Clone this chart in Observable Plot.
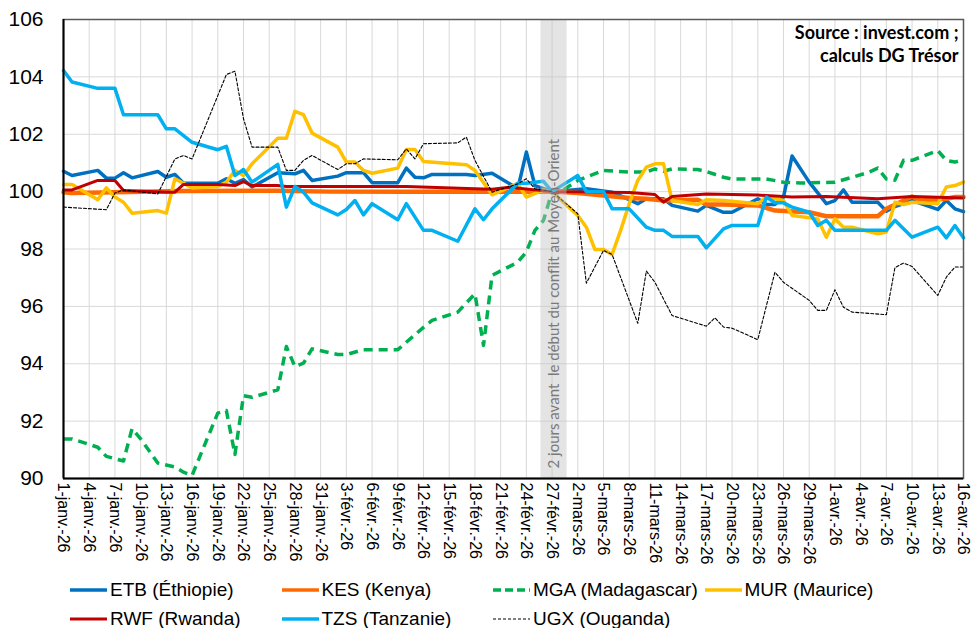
<!DOCTYPE html>
<html><head><meta charset="utf-8">
<script src="https://cdn.jsdelivr.net/npm/d3@7"></script>
<script src="https://cdn.jsdelivr.net/npm/@observablehq/plot@0.6"></script>
<style>
body{margin:0;background:#fff;font-family:"Liberation Sans",Arial,sans-serif;}
#chart{width:971px;height:628px;position:relative;overflow:hidden;background:#fff}
.legend{position:absolute;left:70px;top:575px;display:grid;grid-template-columns:repeat(4,211.5px);grid-auto-rows:29px;font-size:19px;color:#000}
.item{display:flex;align-items:center;white-space:nowrap}
.item svg{margin-right:3px;flex:none}
</style></head><body><div id="chart"></div>
<script>
// Day offsets from 1 Jan 2026, index values (27-févr.-26 = 100)
const ETB = [[0,100.71],[1,100.56],[4,100.74],[5,100.47],[6,100.47],[7,100.66],[8,100.48],[11,100.70],[12,100.50],[13,100.60],[14,100.29],[18,100.29],[19,100.45],[20,100.29],[21,100.42],[22,100.16],[25,100.66],[26,100.64],[27,100.62],[28,100.74],[29,100.39],[32,100.54],[33,100.66],[35,100.66],[36,100.31],[39,100.31],[40,100.82],[41,100.50],[42,100.48],[43,100.60],[47,100.60],[48,100.56],[50,100.64],[53,100.10],[54,101.38],[55,100.21],[57,100],[61,100.10],[64,99.98],[66,99.72],[67,99.58],[68,99.75],[70,99.75],[71,99.52],[74,99.32],[75,99.52],[77,99.28],[78,99.28],[81,99.75],[82,99.55],[83,99.55],[84,99.81],[85,101.24],[87,100.33],[89,99.58],[90,99.69],[91,100.06],[92,99.63],[95,99.63],[96,99.32],[97,99.48],[99,99.69],[102,99.38],[103,99.69],[104,99.40],[105,99.30]];
const KES = [[0,99.98],[1,99.95],[14,100.02],[25,100.03],[31,100.0],[40,100.0],[50,100.0],[57,100],[60,99.95],[66,99.78],[68,99.75],[70,99.69],[74,99.72],[75,99.55],[77,99.55],[81,99.52],[83,99.34],[87,99.28],[89,99.14],[95,99.14],[96,99.40],[99,99.83],[100,99.69],[103,99.75],[104,99.81],[105,99.81]];
const MGA = [[0,91.38],[1,91.38],[4,91.09],[5,90.77],[7,90.61],[8,91.74],[9,91.38],[11,90.54],[13,90.40],[14,90.22],[15,90.11],[18,92.28],[19,92.37],[20,90.84],[21,92.89],[22,92.83],[25,93.09],[26,94.60],[27,93.90],[28,94.02],[29,94.52],[32,94.32],[33,94.32],[35,94.49],[39,94.49],[42,95.27],[43,95.51],[46,95.80],[48,96.44],[49,94.64],[50,97.08],[53,97.54],[54,97.90],[55,98.65],[56,99.0],[57,100],[58,100.0],[60,100.39],[63,100.74],[66,100.68],[68,100.68],[69,100.79],[70,100.71],[71,100.79],[74,100.77],[75,100.70],[77,100.50],[78,100.44],[82,100.44],[84,100.33],[86,100.30],[90,100.33],[92,100.50],[94,100.68],[95,100.82],[96,100.44],[97,100.40],[98,101.09],[99,101.09],[102,101.43],[103,101.09],[104,101.03],[105,101.11]];
const MUR = [[0,100.25],[1,100.25],[4,99.72],[5,100.13],[6,99.81],[7,99.63],[8,99.25],[11,99.34],[12,99.25],[13,100.45],[15,100.13],[18,100.18],[19,100.33],[20,100.74],[21,100.56],[22,100.97],[25,101.86],[26,101.86],[27,102.80],[28,102.68],[29,102.04],[32,101.55],[33,101.03],[34,101.03],[35,100.74],[36,100.64],[39,100.82],[40,101.47],[41,101.47],[42,101.05],[47,100.94],[48,100.74],[50,99.89],[53,100.29],[54,99.81],[56,100.06],[57,100],[60,99.17],[61,98.76],[62,97.98],[63,97.98],[64,97.81],[65,98.65],[66,99.58],[67,100.39],[68,100.85],[69,100.97],[70,100.97],[71,99.69],[74,99.55],[75,99.72],[77,99.69],[81,99.58],[82,99.81],[84,99.69],[85,99.17],[88,99.05],[89,98.41],[90,99.05],[91,98.76],[92,98.76],[95,98.53],[96,98.59],[97,99.63],[98,99.55],[99,99.63],[102,99.58],[103,100.16],[104,100.21],[105,100.33]];
const RWF = [[0,100.06],[1,100.06],[4,100.39],[6,100.39],[7,100.04],[12,99.98],[13,99.98],[14,100.25],[18,100.25],[20,100.21],[21,100.35],[22,100.21],[25,100.21],[26,100.18],[31,100.18],[40,100.18],[48,100.10],[50,100.08],[52,100.15],[57,100],[66,99.97],[69,99.90],[70,99.63],[71,99.83],[75,99.92],[81,99.88],[85,99.81],[89,99.83],[95,99.75],[99,99.83],[105,99.78]];
const TZS = [[0,104.22],[1,103.82],[4,103.60],[6,103.60],[7,102.68],[11,102.68],[12,102.19],[13,102.19],[15,101.72],[18,101.46],[19,101.58],[20,100.56],[21,100.77],[22,100.33],[25,100.95],[26,99.46],[27,100.18],[28,99.98],[29,99.61],[32,99.19],[33,99.38],[34,99.69],[35,99.19],[36,99.58],[39,99.02],[40,99.58],[42,98.65],[43,98.65],[46,98.27],[48,99.40],[49,99.02],[50,99.40],[53,100.29],[54,100.29],[56,100.36],[57,100],[60,100.56],[61,100.0],[63,100.0],[64,99.40],[66,99.40],[68,98.76],[69,98.65],[70,98.65],[71,98.44],[74,98.44],[75,98.04],[77,98.70],[78,98.82],[81,98.82],[82,99.81],[83,99.61],[84,99.61],[85,99.46],[87,99.28],[88,98.82],[89,99.0],[90,98.65],[96,98.65],[97,99.0],[99,98.41],[102,98.76],[103,98.39],[104,98.82],[105,98.39]];
const UGX = [[0,99.46],[5,99.37],[6,99.95],[7,100.06],[11,99.92],[13,101.14],[14,101.26],[15,101.14],[19,104.08],[20,104.20],[21,102.54],[22,101.55],[25,101.55],[26,100.74],[27,100.74],[28,101.09],[29,101.26],[32,100.77],[33,100.97],[34,100.97],[35,101.14],[39,101.11],[40,101.49],[41,101.14],[42,101.67],[46,101.70],[47,101.90],[48,101.09],[50,99.98],[53,100.27],[54,100.45],[55,100.10],[57,100],[60,99.23],[61,96.81],[63,97.95],[64,97.81],[67,95.41],[68,97.23],[69,96.84],[71,95.68],[75,95.31],[76,95.60],[77,95.28],[78,95.24],[81,94.84],[83,97.19],[84,96.84],[87,96.21],[88,95.86],[89,95.86],[90,96.58],[91,95.97],[92,95.80],[96,95.71],[97,97.35],[98,97.51],[99,97.39],[102,96.38],[103,97.02],[104,97.37],[105,97.37]];

const seriesNames = ["ETB (Éthiopie)","KES (Kenya)","MGA (Madagascar)","MUR (Maurice)","RWF (Rwanda)","TZS (Tanzanie)","UGX (Ouganda)"];
const seriesData = [ETB, KES, MGA, MUR, RWF, TZS, UGX];
const seriesColors = ["#0070C0","#FF6A00","#00B050","#FFC000","#C00000","#00B0F0","#000000"];
const seriesWidths = [3.5, 4.5, 3.5, 3.5, 3, 3.5, 1.1];
const seriesDash = [null, null, "9,6", null, null, null, "3,2"];

const monthLabels = ["janv.","févr.","mars","avr."];
const yTicks = [90,92,94,96,98,100,102,104,106];
const tickDays = d3.range(0, 106, 3);
const bandDays = [55.7, 58.75];
const annotation = "2 jours avant  le début du conflit au Moyen-Orient";
const sourceText = "Source : invest.com ;\ncalculs DG Trésor";

const t0 = Date.UTC(2026, 0, 1);
const toDate = d => new Date(t0 + d * 864e5);
const fmt = d => `${d.getUTCDate()}-${monthLabels[d.getUTCMonth()]}-26`;
const tickDates = tickDays.map(toDate);

const lineMarks = seriesData.map((data, i) => Plot.line(data, {
  x: d => toDate(d[0]), y: d => d[1],
  stroke: seriesColors[i], strokeWidth: seriesWidths[i],
  strokeDasharray: seriesDash[i] || undefined,
  strokeLinejoin: "round", strokeLinecap: i === 2 ? "butt" : "round"
}));

const chart = Plot.plot({
  width: 971, height: 566,
  marginLeft: 63, marginRight: 8, marginTop: 19, marginBottom: 88,
  style: {fontFamily: "'Liberation Sans', Arial, sans-serif", background: "#fff", color: "#000"},
  x: {type: "utc", domain: [toDate(0), toDate(105)]},
  y: {domain: [90, 106]},
  marks: [
    Plot.gridY(yTicks, {stroke: "#d9d9d9", strokeOpacity: 1, strokeWidth: 1}),
    Plot.gridX(tickDates, {stroke: "#d9d9d9", strokeOpacity: 1, strokeWidth: 1}),
    ...lineMarks,
    Plot.rect([bandDays], {x1: d => toDate(d[0]), x2: d => toDate(d[1]), y1: 90, y2: 106, fill: "#c4c4c4", fillOpacity: 0.45}),
    Plot.text([annotation], {x: toDate((bandDays[0] + bandDays[1]) / 2), y: 90.35, rotate: -90, textAnchor: "start", lineAnchor: "middle", fontSize: 15, fontFamily: "Lato, sans-serif", fill: "#7a7a7a"}),
    Plot.frame({stroke: "#595959", strokeWidth: 1.5}),
    Plot.ruleY([90], {stroke: "#000", strokeWidth: 2}),
    Plot.ruleX([toDate(0)], {stroke: "#000", strokeWidth: 2}),
    Plot.axisY({ticks: yTicks, tickSize: 0, tickPadding: 20, fontSize: 21, label: null}),
    Plot.axisX({ticks: tickDates, tickFormat: fmt, tickRotate: 90, tickSize: 0, tickPadding: 4, fontSize: 16, label: null}),
    Plot.text([sourceText], {frameAnchor: "top-right", dx: -5, dy: 3, textAnchor: "end", lineAnchor: "top", fontFamily: "Lato, sans-serif", fontWeight: "bold", fontSize: 18, lineHeight: 1.28, fill: "#000"})
  ]
});

const root = document.getElementById("chart");
root.appendChild(chart);
const legend = document.createElement("div");
legend.className = "legend";
seriesNames.forEach((name, i) => {
  const item = document.createElement("div");
  item.className = "item";
  const sw = `<svg width="37" height="8"><line x1="0" y1="4" x2="37" y2="4" stroke="${seriesColors[i]}" stroke-width="${i === 6 ? 1.2 : (i === 4 ? 3 : 3.5)}" ${seriesDash[i] ? `stroke-dasharray="${i === 2 ? '8,4' : '3,2'}"` : ""}/></svg>`;
  item.innerHTML = sw + `<span>${name}</span>`;
  legend.appendChild(item);
});
root.appendChild(legend);
</script></body></html>
